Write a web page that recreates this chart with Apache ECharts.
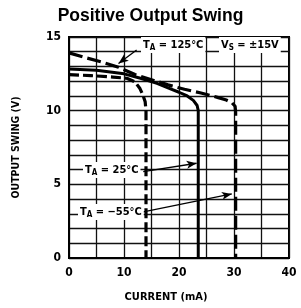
<!DOCTYPE html>
<html>
<head>
<meta charset="utf-8">
<script src="https://cdn.jsdelivr.net/npm/echarts@6/dist/echarts.min.js"></script>
<style>
  html, body { margin: 0; padding: 0; background: #fff; }
  #chart { width: 301px; height: 308px; }
</style>
</head>
<body>
<div id="chart"></div>
<script>
// 曲线数据 (mA, V)
var curM55 = [0, 3, 6, 9, 12, 15, 18, 21, 24, 27, 28.6, 29.6, 30.2, 30.3, 30.3];
var swingM55 = [13.92, 13.6, 13.3, 12.95, 12.45, 12.1, 11.75, 11.45, 11.2, 10.9, 10.72, 10.55, 10.3, 9.9, 0];

var cur25 = [0, 5, 10, 13, 16, 18, 20, 21.5, 22.6, 23.3, 23.5, 23.5];
var swing25 = [12.82, 12.75, 12.5, 12.2, 11.85, 11.55, 11.25, 11.0, 10.7, 10.35, 10.0, 0];

var cur125 = [0, 4, 8, 10.5, 12, 12.9, 13.5, 13.85, 14, 14];
var swing125 = [12.45, 12.38, 12.28, 12.2, 11.95, 11.5, 11.0, 10.6, 10.0, 0];

// 箭头 [起点, 终点]
var arrow125 = [[12.3, 14.12], [9.0, 13.2]];
var arrow25 = [[13.5, 5.86], [23.2, 6.43]];
var arrowM55 = [[13.3, 3.12], [29.6, 4.35]];

var xTicks = [0, 10, 20, 30, 40];
var yTicks = [0, 5, 10, 15];

function zip(a, b) {
    var out = [];
    for (var i = 0; i < a.length; i++) out.push([a[i], b[i]]);
    return out;
}

var narrow = "'Liberation Sans Narrow', 'DejaVu Sans Condensed', sans-serif";
var richStyle = {
    t: { fontSize: 11, fontWeight: 'bold', fontFamily: narrow, color: '#000' },
    s: { fontSize: 8, fontWeight: 'bold', fontFamily: narrow, color: '#000', padding: [6, 0, 0, 0] }
};

function note(x, y, parts) {
    return {
        type: 'text',
        left: x,
        top: y,
        z: 100,
        style: {
            text: parts,
            rich: richStyle,
            backgroundColor: '#fff',
            padding: [1, 2, 1, 2]
        }
    };
}

function arrowLine(a) {
    return [{ coord: a[0] }, { coord: a[1] }];
}

var myChart = echarts.init(document.getElementById('chart'));
var option = {
    animation: false,
    title: {
        text: 'Positive Output Swing',
        left: 'center',
        top: 2,
        textStyle: { fontSize: 17.5, fontWeight: 'bold', fontFamily: "'Liberation Sans', Arial, sans-serif", color: '#000' }
    },
    grid: {
        left: 69, right: 12, top: 37, bottom: 50,
        show: true, borderColor: '#000', borderWidth: 2
    },
    xAxis: {
        type: 'value',
        min: 0, max: 40, interval: 5,
        name: 'CURRENT (mA)',
        nameLocation: 'middle',
        nameGap: 34,
        nameTextStyle: { fontSize: 11, fontWeight: 'bold', fontFamily: narrow, color: '#000', padding: [0, 26, 0, 0] },
        axisLine: { lineStyle: { color: '#000', width: 2 } },
        axisTick: { show: false },
        axisLabel: {
            margin: 9,
            fontSize: 12, fontWeight: 'bold', fontFamily: narrow, color: '#000',
            formatter: function (v) { return xTicks.indexOf(v) >= 0 ? String(v) : ''; }
        },
        splitLine: { lineStyle: { color: '#111', width: 1.3 } }
    },
    yAxis: {
        type: 'value',
        min: 0, max: 15, interval: 1,
        name: 'OUTPUT SWING (V)',
        nameLocation: 'middle',
        nameGap: 47,
        nameTextStyle: { fontSize: 10.5, fontWeight: 'bold', fontFamily: narrow, color: '#000' },
        axisLine: { show: true, lineStyle: { color: '#000', width: 2 } },
        axisTick: { show: false },
        axisLabel: {
            margin: 8,
            fontSize: 12, fontWeight: 'bold', fontFamily: narrow, color: '#000',
            formatter: function (v) { return yTicks.indexOf(v) >= 0 ? String(v) : ''; }
        },
        splitLine: { lineStyle: { color: '#111', width: 1.3 } }
    },
    series: [
        {
            name: 'TA = -55°C',
            type: 'line',
            showSymbol: false,
            data: zip(curM55, swingM55),
            lineStyle: { color: '#000', width: 3.2, type: [14, 5] },
            z: 5
        },
        {
            name: 'TA = 25°C',
            type: 'line',
            showSymbol: false,
            data: zip(cur25, swing25),
            lineStyle: { color: '#000', width: 3 },
            z: 5
        },
        {
            name: 'TA = 125°C',
            type: 'line',
            showSymbol: false,
            data: zip(cur125, swing125),
            lineStyle: { color: '#000', width: 3.2, type: [10, 4] },
            z: 5,
            markLine: {
                silent: true,
                symbol: ['none', 'arrow'],
                symbolSize: [6, 10],
                label: { show: false },
                lineStyle: { color: '#000', width: 1.3, type: 'solid' },
                data: [arrowLine(arrow125), arrowLine(arrow25), arrowLine(arrowM55)]
            }
        }
    ],
    graphic: [
        note(141, 37, '{t|T}{s|A}{t| = 125°C}'),
        note(219, 37, '{t|V}{s|S}{t| = ±15V}'),
        note(83, 162, '{t|T}{s|A}{t| = 25°C}'),
        note(78, 204, '{t|T}{s|A}{t| = −55°C}')
    ]
};
myChart.setOption(option);
window.addEventListener('resize', function () {
    myChart.resize();
});
</script>
</body>
</html>
